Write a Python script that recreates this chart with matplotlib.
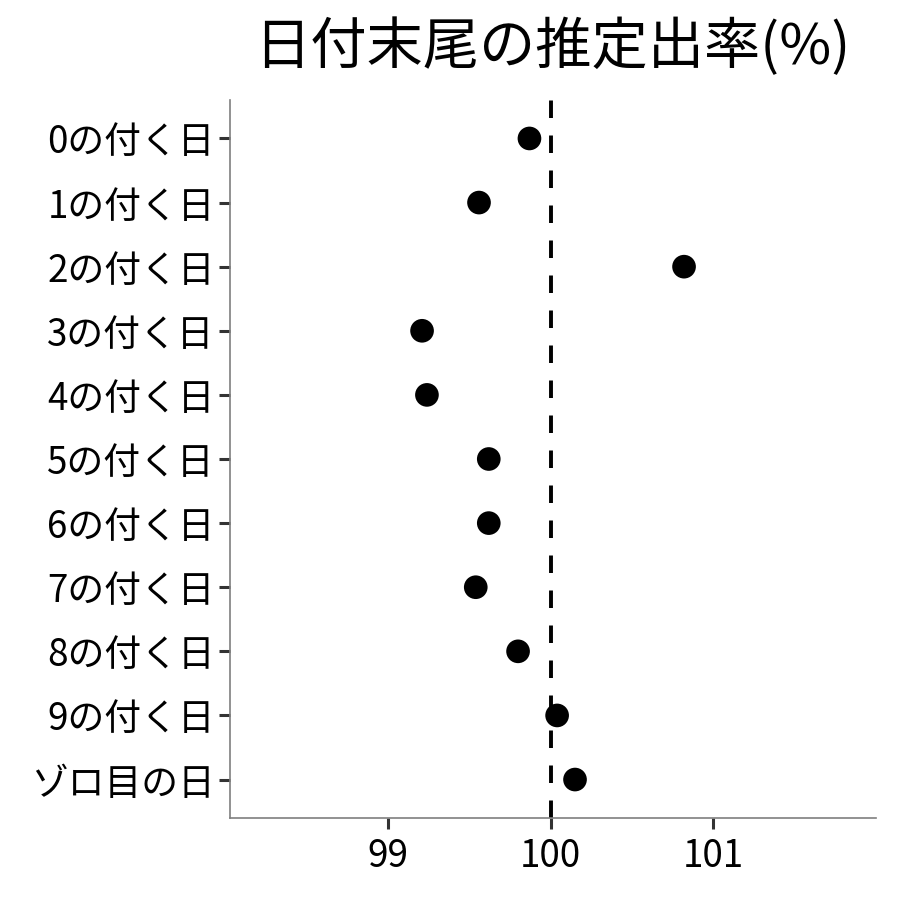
import matplotlib
matplotlib.use("Agg")
import matplotlib.pyplot as plt

plt.rcParams['font.family'] = ['Noto Sans CJK JP', 'DejaVu Sans']

labels = ['0の付く日', '1の付く日', '2の付く日', '3の付く日', '4の付く日',
          '5の付く日', '6の付く日', '7の付く日', '8の付く日', '9の付く日', 'ゾロ目の日']
rates = [99.87, 99.56, 100.82, 99.21, 99.24, 99.62, 99.62, 99.54, 99.80, 100.04, 100.15]
xticks = [99, 100, 101]

fig = plt.figure(figsize=(9, 9), dpi=100)
ax = fig.add_axes([0.2556, 0.0911, 0.7178, 0.7978])

ypos = list(range(len(labels)))[::-1]
ax.axvline(100, color='black', linewidth=2.8, linestyle=(0, (4.5, 4.5)), zorder=1)
ax.scatter(rates, ypos, s=290, color='black', zorder=2, edgecolors='none')

ax.set_xlim(98.03, 102.0)
ax.set_ylim(-0.6, len(labels) - 0.4)
ax.set_yticks(ypos)
ax.set_yticklabels(labels)
ax.set_xticks(xticks)
ax.set_xticklabels([str(t) for t in xticks])

for s in ['top', 'right']:
    ax.spines[s].set_visible(False)
for s in ['left', 'bottom']:
    ax.spines[s].set_color('#7f7f7f')
    ax.spines[s].set_linewidth(1.2)
ax.tick_params(axis='both', colors='#333333', length=8, width=2.2, labelsize=26.5,
               labelcolor='black')
ax.tick_params(axis='y', pad=3)
ax.tick_params(axis='x', pad=6)

fig.text(0.614, 0.947, '日付末尾の推定出率(%)', fontsize=40.5, ha='center', va='center')

fig.savefig('out.png', dpi=100)
